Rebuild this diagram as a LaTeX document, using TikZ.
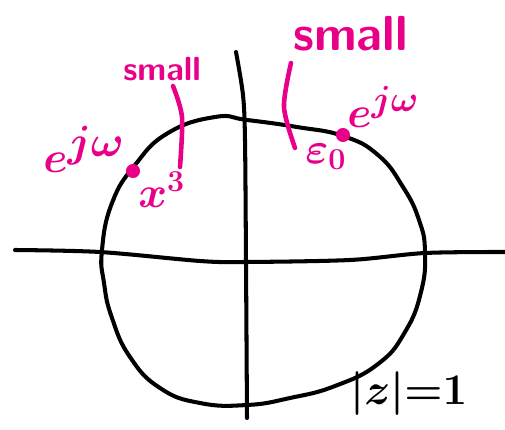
\documentclass[tikz,border=0pt]{standalone}
\usepackage{amsmath, amssymb}
\usepackage{tikz}
\usetikzlibrary{positioning}
\definecolor{inkpink}{RGB}{233,0,137}
\tikzset{
    sketch/.style={line width=2.3pt, line cap=round, line join=round},
    pinkstroke/.style={inkpink, line width=2.6pt, line cap=round},
    pinklabel/.style={inkpink, inner sep=0pt},
}

\begin{document}
\begin{tikzpicture}[x=0.02cm, y=-0.02cm]
    \useasboundingbox (0,0) rectangle (505,430);

    % Axes
    \draw[sketch] plot[smooth] coordinates {(15,250) (100,252) (200,261) (245,262) (350,260) (425,253) (505,252)};
    \draw[sketch] plot[smooth] coordinates {(236,52) (243,95) (245,140) (246,262) (247,418)};

    % Unit circle
    \draw[sketch] plot[smooth cycle, tension=0.8] coordinates {
        (102,250) (112,203) (135,165) (168,133) (215,117) (247,120)
        (297,127) (343,136) (378,155) (403,187) (419,220) (425,252)
        (421,292) (405,332) (378,364) (335,386) (290,398) (247,405)
        (200,403) (160,388) (130,357) (112,318) (104,283)};
    \node[anchor=base west, inner sep=0pt, font=\fontsize{23}{25}\selectfont\boldmath] (unit) at (350,404) {$|z|{=}1$};

    % Points on the circle
    \coordinate (zl) at (133,171);
    \coordinate (zr) at (343,135);
    \fill[inkpink] (zl) circle (4pt);
    \fill[inkpink] (zr) circle (4pt);

    % Left point
    \node[pinklabel, anchor=base west, font=\fontsize{40}{42}\selectfont\boldmath] (ejwl) at (43,172) {$e^{j\omega}$};
    \node[pinklabel, anchor=base west, font=\fontsize{24}{26}\selectfont\boldmath] (xl) at (138,207) {$x^{3}$};
    \node[pinklabel, anchor=base west, font=\sffamily\bfseries\fontsize{19}{21}\selectfont] (smalll) at (123,80) {small};
    \draw[pinkstroke] plot[smooth] coordinates {(173,86) (182,117) (180,167)};

    % Right point
    \node[pinklabel, anchor=base west, font=\fontsize{29}{31}\selectfont\boldmath] (ejwr) at (347,127) {$e^{j\omega}$};
    \node[pinklabel, anchor=base west, font=\fontsize{26}{28}\selectfont\boldmath] (epsr) at (305,163) {$\varepsilon_0$};
    \node[pinklabel, anchor=base west, font=\sffamily\bfseries\fontsize{28}{30}\selectfont] (smallr) at (293,50) {small};
    \draw[pinkstroke] plot[smooth] coordinates {(291,63) (284,107) (295,148)};

\end{tikzpicture}
\end{document}
